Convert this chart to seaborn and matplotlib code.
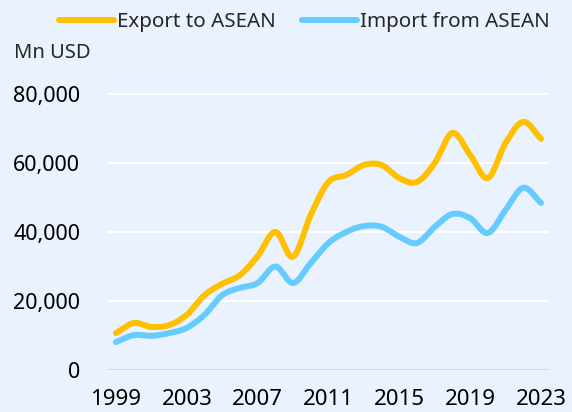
import numpy as np
import pandas as pd
import matplotlib
matplotlib.use("Agg")
import matplotlib.pyplot as plt
import seaborn as sns

# Data (Mn USD)
years = list(range(1999, 2024))
export_to_asean = [10700, 13600, 12500, 13000, 16000, 21700, 25000, 27500, 33000, 40000,
                   32800, 45000, 54500, 56500, 59400, 59400, 55600, 54500, 60000, 68700,
                   62300, 55600, 65800, 71900, 67000]
import_from_asean = [8100, 10100, 9900, 10700, 12200, 16000, 21700, 23800, 25200, 30000,
                     25200, 31000, 36800, 40000, 41700, 41500, 38600, 36800, 41500, 45200,
                     44000, 39700, 46400, 52800, 48400]
series_names = ["Export to ASEAN", "Import from ASEAN"]
colors = ["#FFC000", "#66CCFF"]
x_ticks = [1999, 2003, 2007, 2011, 2015, 2019, 2023]
y_ticks = [0, 20000, 40000, 60000, 80000]


def smooth(x, y, n=20):
    # Catmull-Rom spline through the points (like Excel's smoothed line)
    x = np.asarray(x, float)
    y = np.asarray(y, float)
    px = np.concatenate([[2 * x[0] - x[1]], x, [2 * x[-1] - x[-2]]])
    py = np.concatenate([[2 * y[0] - y[1]], y, [2 * y[-1] - y[-2]]])
    xs, ys = [], []
    t = np.linspace(0, 1, n, endpoint=False)
    for i in range(1, len(px) - 2):
        for arr, out in ((px, xs), (py, ys)):
            p0, p1, p2, p3 = arr[i - 1], arr[i], arr[i + 1], arr[i + 2]
            out.extend(0.5 * (2 * p1 + (-p0 + p2) * t
                              + (2 * p0 - 5 * p1 + 4 * p2 - p3) * t ** 2
                              + (-p0 + 3 * p1 - 3 * p2 + p3) * t ** 3))
    xs.append(x[-1])
    ys.append(y[-1])
    return np.array(xs), np.array(ys)


frames = []
for name, vals in zip(series_names, [export_to_asean, import_from_asean]):
    sx, sy = smooth(years, vals)
    frames.append(pd.DataFrame({"year": sx, "value": sy, "series": name}))
df = pd.concat(frames, ignore_index=True)

sns.set_style("white")
plt.rcParams["font.family"] = ["Noto Sans", "DejaVu Sans"]
bg = "#EAF2FD"

fig = plt.figure(figsize=(5.72, 4.12), dpi=100, facecolor=bg)
ax = fig.add_axes([108 / 572, 42 / 412, 441 / 572, 283 / 412])
ax.set_facecolor(bg)

for y in y_ticks[1:]:
    ax.axhline(y, color="white", lw=1.6, zorder=0)
ax.axhline(0, color="#D9D9D9", lw=1.6, zorder=0)

sns.lineplot(data=df, x="year", y="value", hue="series", palette=colors,
             hue_order=series_names, sort=False, estimator=None,
             lw=4.3, ax=ax, legend=False)

ax.set_xlim(1998.55, 2023.45)
ax.set_ylim(0, 82000)
ax.set_xticks(x_ticks)
ax.set_xticklabels([str(v) for v in x_ticks], fontsize=16)
ax.set_yticks(y_ticks)
ax.set_yticklabels([f"{v:,}" for v in y_ticks], fontsize=15.5)
ax.tick_params(length=0, colors="black")
ax.tick_params(axis="y", pad=20)
ax.tick_params(axis="x", pad=14)
ax.set_xlabel("")
ax.set_ylabel("")
sns.despine(ax=ax, left=True, bottom=True)

handles = [plt.Line2D([], [], color=c, lw=4.3, solid_capstyle="round") for c in colors]
fig.legend(handles, series_names, loc="center left", bbox_to_anchor=(40 / 572, 1 - 22 / 412),
           ncol=2, frameon=False, fontsize=14.8, handlelength=2.7, handletextpad=0.15,
           columnspacing=1.25)

fig.text(14 / 572, 1 - 53 / 412, "Mn USD", fontsize=14.5, va="center", ha="left")

fig.savefig("out.png", dpi=100, facecolor=bg)
